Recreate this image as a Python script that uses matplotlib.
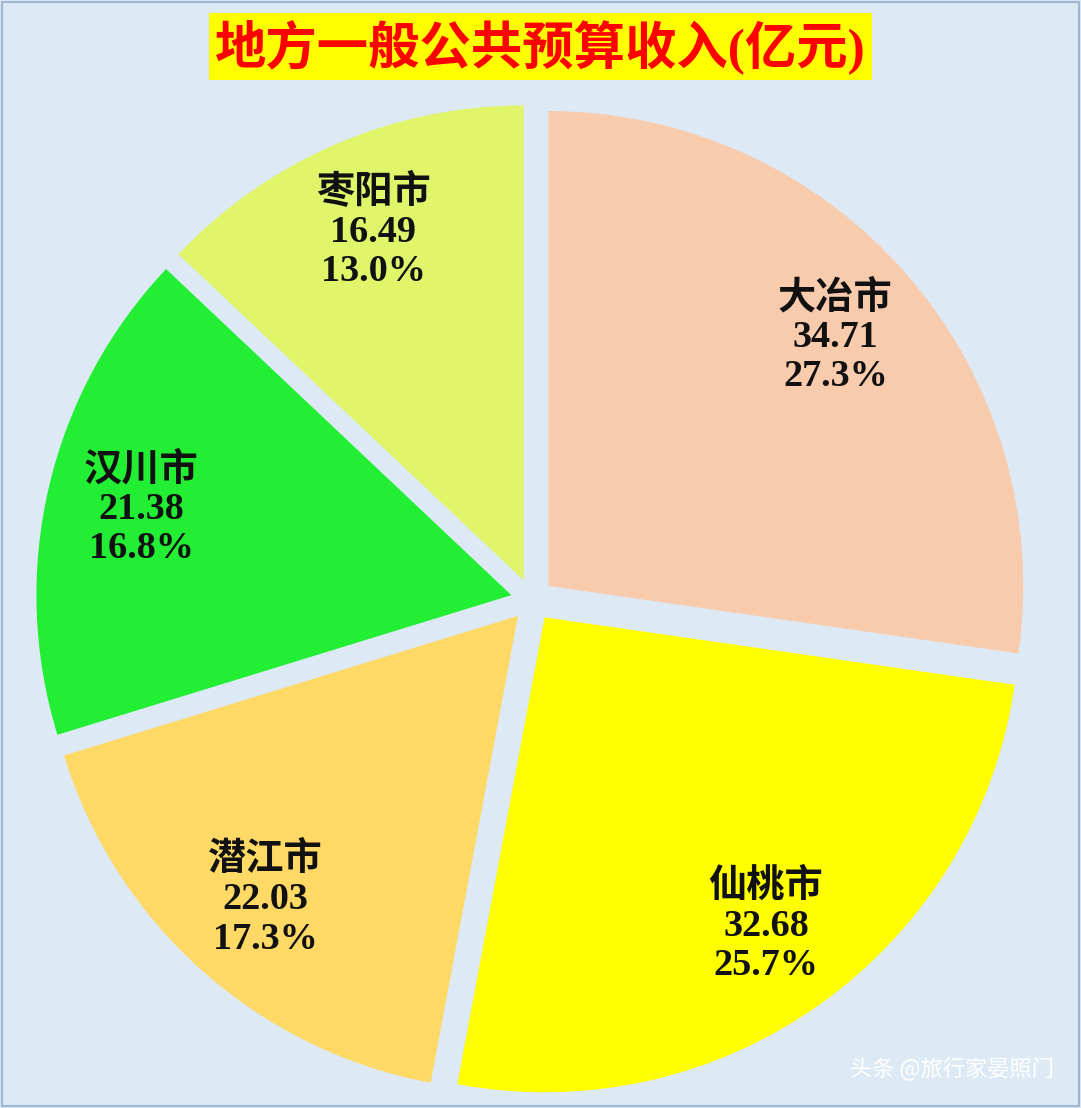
import matplotlib
matplotlib.use("Agg")
import matplotlib.pyplot as plt
from matplotlib.patches import Rectangle

plt.rcParams['font.family'] = ['Liberation Serif', 'Noto Sans CJK SC', 'DejaVu Sans']

cities = ["大冶市", "仙桃市", "潜江市", "汉川市", "枣阳市"]
values = [34.71, 32.68, 22.03, 21.38, 16.49]
colors = ["#f8cbad", "#ffff00", "#ffd966", "#22ee33", "#e0f56a"]
title = "地方一般公共预算收入(亿元)"

fig = plt.figure(figsize=(10.81, 11.08), dpi=100)
fig.patch.set_facecolor("#dde9f5")
fig.patches.append(Rectangle((0.002, 0.002), 0.996, 0.996, transform=fig.transFigure,
                             fill=False, edgecolor="#9fb7d0", linewidth=1.5))
ax = fig.add_axes([0.0088, -0.013, 0.967, 0.943])
ax.set_facecolor("none")

it = iter(range(len(values)))
def fmt(p):
    i = next(it)
    return f"{cities[i]}\n{values[i]:.2f}\n{p:.1f}%"

wedges, texts, autotexts = ax.pie(values, colors=colors, startangle=90, counterclock=False,
                                  explode=[0.045]*5, autopct=fmt, pctdistance=0.8,
                                  wedgeprops=dict(linewidth=0))
for t in autotexts:
    t.set_fontsize(27.5); t.set_fontweight("bold"); t.set_color("#111111")
    t.set_linespacing(1.15)
ax.set_xlim(-1.1, 1.1); ax.set_ylim(-1.1, 1.1)
ax.set_aspect("equal"); ax.axis("off")

fig.text(0.5, 0.958, title, ha="center", va="center", fontsize=37, fontweight="bold",
         color="#ff0000", bbox=dict(boxstyle="square,pad=0.12", facecolor="#ffff00", edgecolor="none"))
fig.text(0.975, 0.035, "头条 @旅行家晏照门", ha="right", va="center", fontsize=16, color="#ffffff",
         family=['Noto Sans CJK SC'])

fig.savefig("out.png", dpi=100, facecolor=fig.get_facecolor())
